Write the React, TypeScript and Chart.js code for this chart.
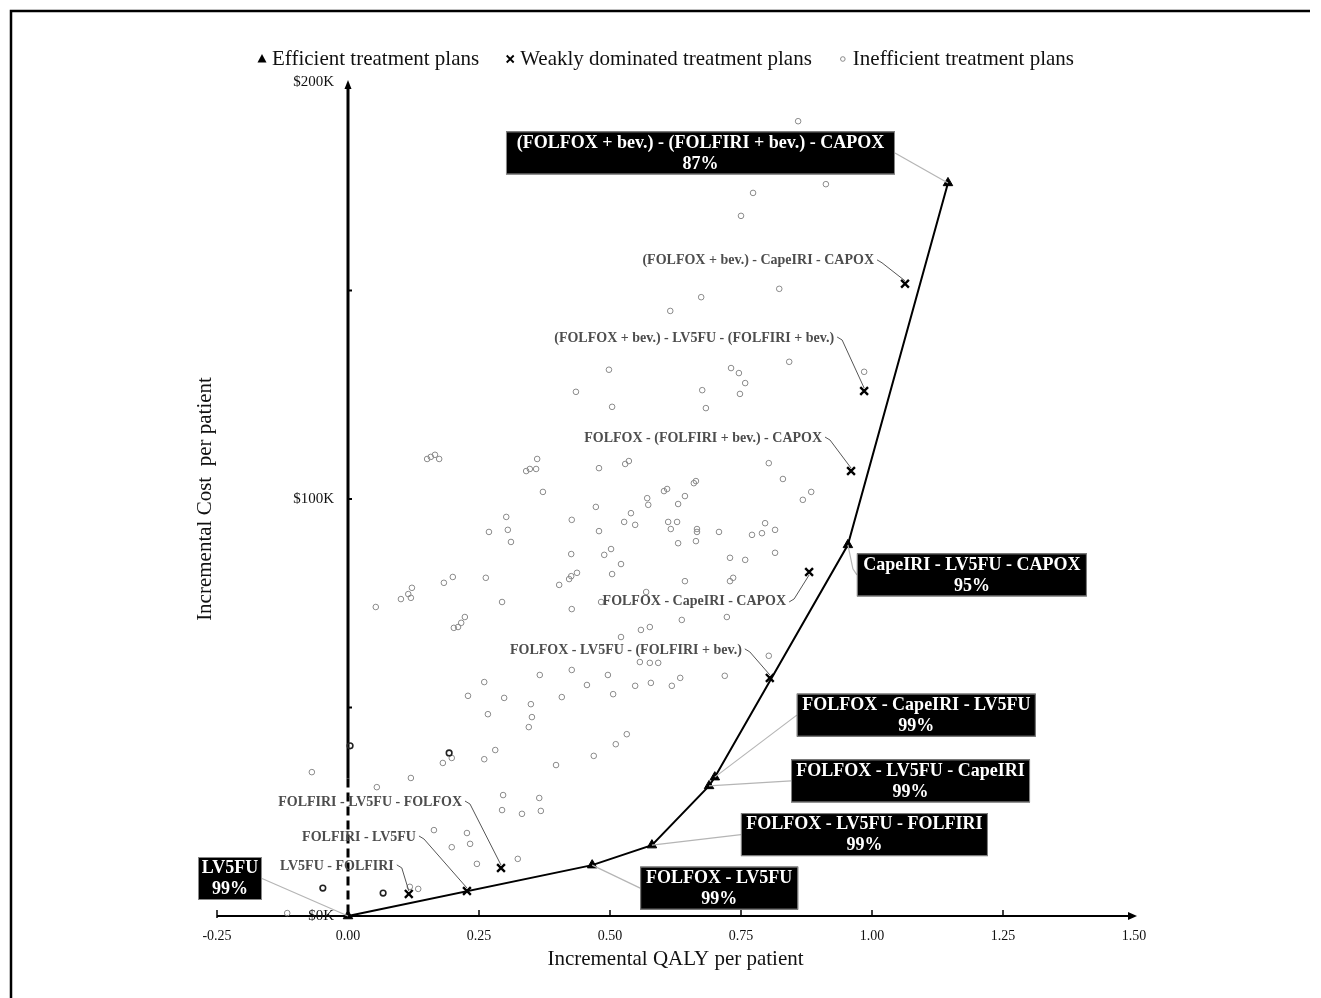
import React, { useEffect, useRef } from "react";
import { Chart, registerables } from "chart.js";

Chart.register(...registerables);

const FONT = '"Liberation Serif", "Times New Roman", serif';

// ---------- axes ----------
const xTickValues = [-0.25, 0, 0.25, 0.5, 0.75, 1.0, 1.25, 1.5];
const xTickLabels = ["-0.25", "0.00", "0.25", "0.50", "0.75", "1.00", "1.25", "1.50"];
const yTickValues = [0, 50, 100, 150, 200];
const yTickLabels = ["$0K", "", "$100K", "", "$200K"];
const xTitle = "Incremental QALY per patient";
const yTitle = "Incremental Cost  per patient";
const legendLabels = ["Efficient treatment plans", "Weakly dominated treatment plans", "Inefficient treatment plans"];

// ---------- efficient frontier (QALY, cost in $K) ----------
const efficientPlans = [
  "LV5FU",
  "FOLFOX - LV5FU",
  "FOLFOX - LV5FU - FOLFIRI",
  "FOLFOX - LV5FU - CapeIRI",
  "FOLFOX - CapeIRI - LV5FU",
  "CapeIRI - LV5FU - CAPOX",
  "(FOLFOX + bev.) - (FOLFIRI + bev.) - CAPOX",
];
const efficientQaly = [0, 0.466, 0.58, 0.689, 0.7, 0.954, 1.145];
const efficientCost = [0, 12.2, 17.0, 31.2, 33.3, 89.0, 175.8];
const efficientProb = ["99%", "99%", "99%", "99%", "99%", "95%", "87%"];

// ---------- weakly dominated ----------
const weakPlans = [
  "LV5FU - FOLFIRI",
  "FOLFIRI - LV5FU",
  "FOLFIRI - LV5FU - FOLFOX",
  "FOLFOX - LV5FU - (FOLFIRI + bev.)",
  "FOLFOX - CapeIRI - CAPOX",
  "FOLFOX - (FOLFIRI + bev.) - CAPOX",
  "(FOLFOX + bev.) - LV5FU - (FOLFIRI + bev.)",
  "(FOLFOX + bev.) - CapeIRI - CAPOX",
];
const weakQaly = [0.116, 0.227, 0.292, 0.805, 0.88, 0.96, 0.985, 1.063];
const weakCost = [5.3, 6.0, 11.5, 57.1, 82.5, 106.7, 125.9, 151.6];

// ---------- inefficient ----------
const inefficientQaly = [
  0.859, 0.912, 0.773, 0.75, 0.823, 0.674, 0.615, 0.498, 0.435, 0.504, 0.676, 0.683, 0.731, 0.746, 0.758, 0.748, 0.842, 0.985,
  0.151, 0.158, 0.166, 0.174, 0.34, 0.347, 0.359, 0.361, 0.479, 0.529, 0.536, 0.372, 0.603, 0.609, 0.571, 0.573, 0.473, 0.302,
  0.54, 0.427, 0.527, 0.548, 0.611, 0.616, 0.628, 0.269, 0.305, 0.479, 0.311, 0.426, 0.489, 0.502, 0.521, 0.504, 0.403, 0.422,
  0.426, 0.437, 0.183, 0.2, 0.263, 0.101, 0.115, 0.12, 0.122, 0.053, 0.294, 0.427, 0.569, 0.483, 0.202, 0.21, 0.216, 0.223,
  0.559, 0.576, 0.521, 0.557, 0.576, 0.592, 0.366, 0.427, 0.496, 0.26, 0.456, 0.548, 0.578, 0.229, 0.298, 0.408, 0.506, 0.349,
  0.267, 0.351,
  0.803, 0.83, 0.63, 0.643, 0.66, 0.664, 0.666, 0.666, 0.664, 0.63, 0.708, 0.771, 0.79, 0.796, 0.815, 0.868, 0.884, 0.815,
  0.729, 0.758, 0.643, 0.729, 0.735, 0.637, 0.723, 0.803, 0.618, 0.634, 0.719,
  0.345, 0.532, 0.511, 0.469, 0.397, 0.26, 0.281, 0.181, 0.198, 0.296, 0.294, 0.365, 0.368, 0.332, 0.164, 0.227, 0.233, 0.198,
  0.246, 0.324, 0.118, 0.134, -0.069, 0.055, 0.12, -0.116,
];
const inefficientCost = [
  190.6, 175.5, 173.4, 167.9, 150.4, 148.4, 145.1, 131.0, 125.7, 122.1, 126.1, 121.8, 131.4, 130.2, 127.8, 125.2, 132.9, 130.5,
  109.6, 110.1, 110.6, 109.6, 106.7, 107.2, 107.2, 109.6, 107.4, 108.4, 109.1, 101.7, 101.9, 102.4, 100.2, 98.6, 98.1, 95.7,
  96.6, 95.0, 94.5, 93.8, 94.5, 92.8, 94.5, 92.1, 92.6, 92.3, 89.7, 86.8, 86.6, 88.0, 84.4, 82.0, 79.4, 80.8,
  81.5, 82.3, 79.9, 81.3, 81.1, 76.0, 77.2, 76.3, 78.7, 74.1, 75.3, 73.6, 77.7, 75.3, 69.1, 69.3, 70.3, 71.7,
  68.6, 69.3, 66.9, 60.9, 60.7, 60.7, 57.8, 59.0, 57.8, 56.1, 55.4, 55.2, 55.9, 52.8, 52.3, 52.5, 53.2, 50.8,
  48.4, 47.7,
  108.6, 104.8, 98.8, 100.7, 103.8, 104.3, 92.8, 92.1, 89.9, 89.4, 92.1, 91.4, 91.8, 94.2, 92.6, 99.8, 101.7, 87.1,
  85.9, 85.4, 80.3, 80.3, 81.1, 71.0, 71.7, 62.4, 55.2, 57.1, 57.6,
  45.3, 43.6, 41.2, 38.4, 36.2, 37.6, 39.8, 36.7, 37.9, 29.0, 25.4, 28.3, 25.2, 24.5, 20.6, 19.9, 17.3, 16.5,
  12.5, 13.7, 7.0, 6.5, 34.5, 30.9, 33.1, 0.7,
];
// overlapping (darker) inefficient points
const overlapQaly = [-0.048, 0.067, 0.193, 0.004];
const overlapCost = [6.7, 5.5, 39.1, 40.8];

// ---------- label layout (pixel offsets from the point) ----------
const efficientBoxLayout = [
  { dx: -118, dy: -37.5, w: 64, side: "right", via: null },
  { dx: 127, dy: 23, w: 158, side: "left", via: null },
  { dx: 212.5, dy: -10.5, w: 247, side: "left", via: null },
  { dx: 201.5, dy: -5, w: 239, side: "left", via: null },
  { dx: 201.5, dy: -62, w: 239, side: "left", via: null },
  { dx: 124, dy: 30, w: 230, side: "left", via: [5, 24] },
  { dx: -247.5, dy: -30, w: 389, side: "right", via: null },
];
const weakLabelLayout = [
  { dx: -15, dy: -28 },
  { dx: -51, dy: -54 },
  { dx: -39, dy: -66 },
  { dx: -28, dy: -28 },
  { dx: -23, dy: 29 },
  { dx: -29, dy: -33 },
  { dx: -30, dy: -53 },
  { dx: -31, dy: -23 },
];
const yDashFrom = 33; // $K below which the cost axis is dashed

const toPoints = (xs: number[], ys: number[]) => xs.map((x, i) => ({ x, y: ys[i] }));

const cePlugin = {
  id: "cePlane",
  beforeDatasetsDraw(chart: any) {
    const { ctx } = chart;
    const xs = chart.scales.x;
    const ys = chart.scales.y;
    const x0 = xs.getPixelForValue(0);
    const y0 = ys.getPixelForValue(0);
    const xl = xs.getPixelForValue(-0.25);
    const xr = xs.getPixelForValue(1.5);
    const yt = ys.getPixelForValue(200);
    ctx.save();
    ctx.strokeStyle = "#000";
    ctx.fillStyle = "#000";
    // x axis
    ctx.lineWidth = 2;
    ctx.beginPath();
    ctx.moveTo(xl, y0);
    ctx.lineTo(xr - 3, y0);
    ctx.stroke();
    ctx.beginPath();
    ctx.moveTo(xr + 3, y0);
    ctx.lineTo(xr - 6, y0 - 4);
    ctx.lineTo(xr - 6, y0 + 4);
    ctx.closePath();
    ctx.fill();
    ctx.lineWidth = 1.5;
    xTickValues.forEach((v) => {
      if (v === 0 || v === 1.5) return;
      const px = xs.getPixelForValue(v);
      ctx.beginPath();
      ctx.moveTo(px, y0 + (v === -0.25 ? 2 : 0));
      ctx.lineTo(px, y0 - 6);
      ctx.stroke();
    });
    // y axis
    const yd = ys.getPixelForValue(yDashFrom);
    ctx.lineWidth = 3;
    ctx.beginPath();
    ctx.moveTo(x0, yt + 4);
    ctx.lineTo(x0, yd);
    ctx.stroke();
    ctx.setLineDash([9, 5]);
    ctx.beginPath();
    ctx.moveTo(x0, yd);
    ctx.lineTo(x0, y0);
    ctx.stroke();
    ctx.setLineDash([]);
    ctx.beginPath();
    ctx.moveTo(x0, yt - 2);
    ctx.lineTo(x0 - 3.5, yt + 7);
    ctx.lineTo(x0 + 3.5, yt + 7);
    ctx.closePath();
    ctx.fill();
    ctx.lineWidth = 2;
    yTickValues.forEach((v) => {
      if (v === 0 || v === 200) return;
      const py = ys.getPixelForValue(v);
      ctx.beginPath();
      ctx.moveTo(x0, py);
      ctx.lineTo(x0 + 4, py);
      ctx.stroke();
    });
    ctx.restore();
  },
  afterDatasetsDraw(chart: any) {
    const { ctx } = chart;
    const xs = chart.scales.x;
    const ys = chart.scales.y;
    ctx.save();
    // weakly dominated labels
    ctx.font = `bold 14px ${FONT}`;
    ctx.textAlign = "right";
    ctx.textBaseline = "middle";
    weakPlans.forEach((name, i) => {
      const px = xs.getPixelForValue(weakQaly[i]);
      const py = ys.getPixelForValue(weakCost[i]);
      const L = weakLabelLayout[i];
      const ax = px + L.dx;
      const ay = py + L.dy;
      const s = L.dy < 0 ? 1 : -1;
      ctx.strokeStyle = "#555";
      ctx.lineWidth = 1;
      ctx.beginPath();
      ctx.moveTo(ax + 3, ay - s);
      ctx.lineTo(ax + 8, ay + 2 * s);
      ctx.lineTo(px, py - 3 * s);
      ctx.stroke();
      ctx.fillStyle = "#4d4d4d";
      ctx.fillText(name, ax, ay);
    });
    // efficient labels (black boxes)
    efficientPlans.forEach((name, i) => {
      const px = xs.getPixelForValue(efficientQaly[i]);
      const py = ys.getPixelForValue(efficientCost[i]);
      const L: any = efficientBoxLayout[i];
      const cx = px + L.dx;
      const cy = py + L.dy;
      const h = 43;
      const ex = L.side === "left" ? cx - L.w / 2 : cx + L.w / 2;
      ctx.strokeStyle = "#b5b5b5";
      ctx.lineWidth = 1.2;
      ctx.beginPath();
      ctx.moveTo(px, py);
      if (L.via) ctx.lineTo(px + L.via[0], py + L.via[1]);
      ctx.lineTo(ex, cy);
      ctx.stroke();
      ctx.fillStyle = "#000";
      ctx.fillRect(cx - L.w / 2, cy - h / 2, L.w, h);
      ctx.strokeStyle = "#888";
      ctx.lineWidth = 1;
      ctx.strokeRect(cx - L.w / 2 + 0.5, cy - h / 2 + 0.5, L.w - 1, h - 1);
      ctx.fillStyle = "#fff";
      ctx.font = `bold 18px ${FONT}`;
      ctx.textAlign = "center";
      ctx.textBaseline = "middle";
      ctx.fillText(name, cx, cy - 10);
      ctx.fillText(efficientProb[i], cx, cy + 11);
    });
    ctx.restore();
  },
  afterDraw(chart: any) {
    const { ctx, chartArea } = chart;
    const xs = chart.scales.x;
    const ys = chart.scales.y;
    const x0 = xs.getPixelForValue(0);
    const y0 = ys.getPixelForValue(0);
    ctx.save();
    // tick labels
    ctx.fillStyle = "#111";
    ctx.font = `14px ${FONT}`;
    ctx.textAlign = "center";
    ctx.textBaseline = "middle";
    xTickValues.forEach((v, i) => ctx.fillText(xTickLabels[i], xs.getPixelForValue(v), y0 + 20));
    ctx.font = `15px ${FONT}`;
    ctx.textAlign = "right";
    yTickValues.forEach((v, i) => {
      if (yTickLabels[i]) ctx.fillText(yTickLabels[i], x0 - 14, ys.getPixelForValue(v));
    });
    // axis titles
    ctx.font = `21px ${FONT}`;
    ctx.textAlign = "center";
    ctx.fillText(xTitle, (chartArea.left + chartArea.right) / 2, y0 + 43);
    ctx.save();
    ctx.translate(205, (chartArea.top + chartArea.bottom) / 2);
    ctx.rotate(-Math.PI / 2);
    ctx.fillText(yTitle, 0, 0);
    ctx.restore();
    // legend
    const ly = 59;
    ctx.font = `21px ${FONT}`;
    ctx.textAlign = "left";
    let mx = 262;
    legendLabels.forEach((lab, i) => {
      ctx.fillStyle = "#000";
      ctx.strokeStyle = "#000";
      if (i === 0) {
        ctx.beginPath();
        ctx.moveTo(mx, ly - 5);
        ctx.lineTo(mx - 4.5, ly + 3.5);
        ctx.lineTo(mx + 4.5, ly + 3.5);
        ctx.closePath();
        ctx.fill();
      } else if (i === 1) {
        ctx.lineWidth = 1.8;
        ctx.beginPath();
        ctx.moveTo(mx - 3.5, ly - 3.5);
        ctx.lineTo(mx + 3.5, ly + 3.5);
        ctx.moveTo(mx + 3.5, ly - 3.5);
        ctx.lineTo(mx - 3.5, ly + 3.5);
        ctx.stroke();
      } else {
        ctx.strokeStyle = "#888";
        ctx.lineWidth = 1;
        ctx.beginPath();
        ctx.arc(mx, ly, 2.3, 0, Math.PI * 2);
        ctx.stroke();
      }
      ctx.fillStyle = "#111";
      const tx = mx + 10;
      ctx.fillText(lab, tx, ly);
      mx = tx + ctx.measureText(lab).width + 31;
    });
    // outer frame
    ctx.strokeStyle = "#000";
    ctx.lineWidth = 2.5;
    ctx.beginPath();
    ctx.moveTo(11, 998);
    ctx.lineTo(11, 11);
    ctx.lineTo(1310, 11);
    ctx.stroke();
    ctx.restore();
  },
};

export default function App() {
  const ref = useRef<HTMLCanvasElement | null>(null);
  useEffect(() => {
    if (!ref.current) return;
    const chart = new Chart(ref.current, {
      type: "scatter",
      data: {
        datasets: [
          {
            label: legendLabels[0],
            data: toPoints(efficientQaly, efficientCost),
            showLine: true,
            borderColor: "#000",
            borderWidth: 2,
            backgroundColor: "#000",
            pointStyle: "triangle",
            pointRadius: 5.5,
            pointBorderWidth: 1,
            clip: false,
            order: 1,
          },
          {
            label: legendLabels[1],
            data: toPoints(weakQaly, weakCost),
            borderColor: "#000",
            backgroundColor: "#000",
            pointStyle: "crossRot",
            pointRadius: 5.5,
            pointBorderWidth: 2.4,
            clip: false,
            order: 2,
          },
          {
            label: "overlap",
            data: toPoints(overlapQaly, overlapCost),
            borderColor: "#222",
            backgroundColor: "rgba(0,0,0,0)",
            pointStyle: "circle",
            pointRadius: 2.8,
            pointBorderWidth: 1.6,
            clip: false,
            order: 3,
          },
          {
            label: legendLabels[2],
            data: toPoints(inefficientQaly, inefficientCost),
            borderColor: "#8a8a8a",
            backgroundColor: "rgba(0,0,0,0)",
            pointStyle: "circle",
            pointRadius: 2.8,
            pointBorderWidth: 1,
            clip: false,
            order: 4,
          },
        ],
      },
      options: {
        responsive: false,
        animation: false,
        layout: { padding: { left: 217, right: 187, top: 82, bottom: 82 } },
        plugins: { legend: { display: false }, tooltip: { enabled: false }, title: { display: false } },
        scales: {
          x: { type: "linear", min: -0.25, max: 1.5, display: false },
          y: { type: "linear", min: 0, max: 200, display: false },
        },
      },
      plugins: [cePlugin],
    });
    return () => chart.destroy();
  }, []);
  return (
    <div style={{ position: "fixed", left: 0, top: 0, background: "#fff" }}>
      <canvas ref={ref} width={1321} height={998} style={{ display: "block" }} />
    </div>
  );
}
